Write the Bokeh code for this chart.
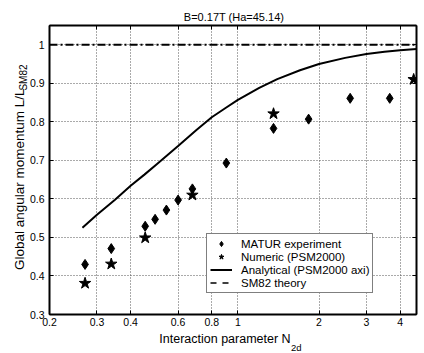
from bokeh.plotting import figure
from bokeh.models import (Range1d, FixedTicker, CustomJSTickFormatter, LogAxis, LinearAxis,
                          Label, Legend, LegendItem)
from bokeh.embed import file_html
from bokeh.resources import INLINE
import math

# ---- data ----
matur_x = [0.271, 0.339, 0.453, 0.493, 0.543, 0.600, 0.678, 0.906, 1.356, 1.83, 2.61, 3.66]
matur_y = [0.430, 0.471, 0.529, 0.547, 0.571, 0.597, 0.626, 0.693, 0.783, 0.807, 0.861, 0.861]

numeric_x = [0.271, 0.339, 0.453, 0.678, 1.356, 4.49]
numeric_y = [0.381, 0.431, 0.499, 0.610, 0.821, 0.910]

analytic_x = [0.265, 0.3, 0.35, 0.4, 0.45, 0.5, 0.6, 0.7, 0.8, 0.9, 1.0, 1.2, 1.4, 1.7, 2.0, 2.5, 3.0, 3.5, 4.0, 4.6]
analytic_y = [0.525, 0.559, 0.598, 0.634, 0.663, 0.690, 0.737, 0.778, 0.812, 0.836, 0.857, 0.888, 0.911, 0.934, 0.950, 0.966, 0.976, 0.982, 0.986, 0.989]

sm82_x = [0.2, 4.6]
sm82_y = [1.0, 1.0]

x_ticks = [0.2, 0.3, 0.4, 0.6, 0.8, 1, 2, 3, 4]
y_ticks = [0.3, 0.4, 0.5, 0.6, 0.7, 0.8, 0.9, 1.0]

title_text = "B=0.17T (Ha=45.14)"
xlabel_main, xlabel_sub = "Interaction parameter N", "2d"
ylabel_main, ylabel_sub = "Global angular momentum L/L", "SM82"
legend_labels = ["MATUR experiment", "Numeric (PSM2000)", "Analytical (PSM2000 axi)", "SM82 theory"]

FONT = "Liberation Sans"
X0, X1, Y0, Y1 = 0.2, 4.6, 0.3, 1.05
W, H = 424, 353
FL, FT, FR, FB = 46, 25, 416, 318   # frame edges in canvas pixels

def px_x(px):
    return 10 ** (math.log10(X0) + (px - FL) / (FR - FL) * math.log10(X1 / X0))

def px_y(py):
    return Y0 + (FB - py) / (FB - FT) * (Y1 - Y0)

p = figure(width=W, height=H, x_axis_type="log",
           x_range=Range1d(X0, X1), y_range=Range1d(Y0, Y1),
           output_backend="svg", toolbar_location=None,
           min_border_left=FL, min_border_top=FT, min_border_right=W - FR, min_border_bottom=H - FB)
p.background_fill_color = "white"
p.border_fill_color = "white"
p.outline_line_color = "black"
p.outline_line_width = 1

xfmt = CustomJSTickFormatter(code="return tick < 1 ? tick.toFixed(1) : tick.toFixed(0);")
yfmt = CustomJSTickFormatter(code="return Math.abs(tick-1) < 1e-9 ? '1' : tick.toFixed(1);")
empty = CustomJSTickFormatter(code="return '';")

def style_axis(ax, fmt, standoff):
    ax.major_tick_in = 4
    ax.major_tick_out = 0
    ax.minor_tick_in = 0
    ax.minor_tick_out = 0
    ax.axis_line_width = 2
    ax.axis_line_color = "black"
    ax.major_tick_line_color = "black"
    ax.major_tick_line_width = 1
    ax.formatter = fmt
    ax.major_label_standoff = standoff
    ax.major_label_text_font = FONT
    ax.major_label_text_font_size = "10.5px"
    ax.major_label_text_color = "black"

p.xaxis.ticker = FixedTicker(ticks=x_ticks)
p.yaxis.ticker = FixedTicker(ticks=y_ticks)
style_axis(p.xaxis[0], xfmt, 3)
style_axis(p.yaxis[0], yfmt, 5)

top_ax = LogAxis(ticker=FixedTicker(ticks=x_ticks))
style_axis(top_ax, empty, 0)
top_ax.major_label_text_font_size = "0px"
p.add_layout(top_ax, "above")
right_ax = LinearAxis(ticker=FixedTicker(ticks=y_ticks))
style_axis(right_ax, empty, 0)
right_ax.major_label_text_font_size = "0px"
p.add_layout(right_ax, "right")

for g in (p.xgrid[0], p.ygrid[0]):
    g.grid_line_color = "#555555"
    g.grid_line_dash = "1 2"
    g.grid_line_width = 1
p.xgrid[0].ticker = FixedTicker(ticks=x_ticks)
p.ygrid[0].ticker = FixedTicker(ticks=y_ticks)

r_sm = p.line(sm82_x, sm82_y, line_color="black", line_width=2, line_dash="8 3 2 3")
r_an = p.line(analytic_x, analytic_y, line_color="black", line_width=2)
r_ma = p.scatter(matur_x, matur_y, marker="diamond", size=10, fill_color="black", line_color="black")
r_nu = p.scatter(numeric_x, numeric_y, marker="star", size=12, fill_color="black", line_color="black")
r_sm_leg = p.line([float("nan")] * 2, [float("nan")] * 2, line_color="black", line_width=1.5, line_dash="6 6")

legend = Legend(items=[LegendItem(label=legend_labels[0], renderers=[r_ma]),
                       LegendItem(label=legend_labels[1], renderers=[r_nu]),
                       LegendItem(label=legend_labels[2], renderers=[r_an]),
                       LegendItem(label=legend_labels[3], renderers=[r_sm_leg])],
                location=(157, 21))
legend.border_line_color = "black"
legend.border_line_width = 1
legend.background_fill_color = "white"
legend.background_fill_alpha = 1
legend.label_text_font = FONT
legend.label_text_font_size = "11.5px"
legend.label_text_color = "black"
legend.glyph_width = 22
legend.glyph_height = 13
legend.label_height = 13
legend.label_standoff = 9
legend.spacing = 0
legend.padding = 3
legend.margin = 0
p.add_layout(legend, "center")

def add_text(side, px, py, text, size, angle=0.0, align="left"):
    p.add_layout(Label(x=px_x(px), y=px_y(py), text=text, angle=angle,
                       text_font=FONT, text_font_size=size, text_align=align,
                       text_baseline="alphabetic", text_color="black"), side)

add_text("above", 232, 16.3, title_text, "11px", align="center")
add_text("below", 156.7, 343, xlabel_main, "12.5px")
add_text("below", 289.5, 351, xlabel_sub, "9.5px")
add_text("left", 15.5, 273, ylabel_main, "13.5px", angle=math.pi / 2)
add_text("left", 19.5, 91, ylabel_sub, "10px", angle=math.pi / 2)

open("out.html", "w").write(file_html(p, INLINE))
